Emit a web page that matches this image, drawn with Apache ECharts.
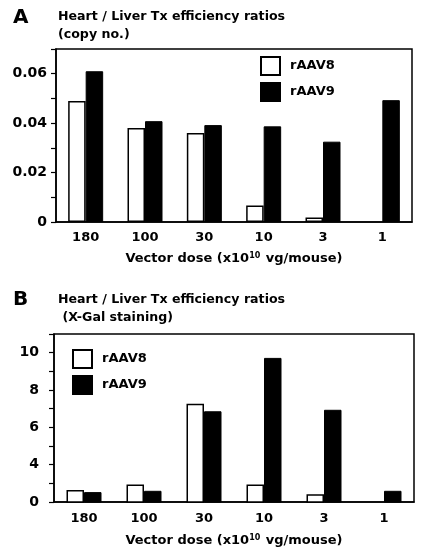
<!DOCTYPE html>
<html>
<head>
<meta charset="utf-8">
<script src="https://cdn.jsdelivr.net/npm/echarts@6/dist/echarts.min.js"></script>
<style>
html,body{margin:0;padding:0;background:#fff;}
#chart{width:424px;height:556px;}
</style>
</head>
<body>
<div id="chart"></div>
<script>
// Categories (vector dose, x10^10 vg/mouse)
var categories = ['180', '100', '30', '10', '3', '1'];

// Panel A: Heart / Liver Tx efficiency ratios (copy no.)
var aRAAV8 = [0.049, 0.038, 0.036, 0.0067, 0.0018, null];
var aRAAV9 = [0.061, 0.0408, 0.0392, 0.0387, 0.0325, 0.0493];
var aTickLabels = ['0', '0.02', '0.04', '0.06'];

// Panel B: Heart / Liver Tx efficiency ratios (X-Gal staining)
// (bottom labelled tick "0" sits one major step below "4")
var bRAAV8 = [2.64, 2.94, 7.27, 2.94, 2.42, null];
var bRAAV9 = [2.53, 2.60, 6.86, 9.72, 6.94, 2.60];
var bTickLabels = ['0', '4', '6', '8', '10'];

var FONT = 'DejaVu Sans';
var txt = {fontFamily: FONT, fontWeight: 'bold', fontSize: 13, color: '#000'};
var ytxt = {fontFamily: FONT, fontWeight: 'bold', fontSize: 14, color: '#000'};

var chart = echarts.init(document.getElementById('chart'), null, {renderer: 'canvas'});

function xName(gap) {
  return {
    name: '{n|Vector dose (x10}{s|10}{n| vg/mouse)}',
    nameLocation: 'middle',
    nameGap: gap,
    nameTextStyle: {
      rich: {
        n: {fontFamily: FONT, fontWeight: 'bold', fontSize: 13, color: '#000'},
        s: {fontFamily: FONT, fontWeight: 'bold', fontSize: 8, color: '#000', verticalAlign: 'top', padding: [0, 1, 6, 0]}
      }
    }
  };
}

var white = {color: '#fff', borderColor: '#000', borderWidth: 1.5};
var black = {color: '#000', borderColor: '#000', borderWidth: 1};
var titleStyle = {fontFamily: FONT, fontWeight: 'bold', fontSize: 12.6, lineHeight: 17.5, color: '#000'};
var letterStyle = {fontFamily: FONT, fontWeight: 'bold', fontSize: 20, lineHeight: 20, color: '#000'};

var option = {
  backgroundColor: '#fff',
  animation: false,
  title: [
    {text: 'A', left: 13, top: 8, padding: 0, textStyle: letterStyle},
    {text: 'Heart / Liver Tx efficiency ratios\n(copy no.)', left: 58, top: 8, padding: 0, textStyle: titleStyle},
    {text: 'B', left: 13, top: 290, padding: 0, textStyle: letterStyle},
    {text: 'Heart / Liver Tx efficiency ratios\n (X-Gal staining)', left: 58, top: 291, padding: 0, textStyle: titleStyle}
  ],
  legend: [
    {left: 260, top: 56, padding: 0, orient: 'vertical', itemWidth: 19, itemHeight: 18, itemGap: 6,
     icon: 'rect', textStyle: Object.assign({}, txt, {padding: [0, 0, 0, 5]}), data: ['rAAV8', 'rAAV9'], selectedMode: false},
    {left: 72, top: 349, padding: 0, orient: 'vertical', itemWidth: 19, itemHeight: 18, itemGap: 6,
     icon: 'rect', textStyle: Object.assign({}, txt, {padding: [0, 0, 0, 5]}), data: ['rAAV8', 'rAAV9'], selectedMode: false}
  ],
  grid: [
    {left: 56, top: 49, width: 356, height: 173, show: true, borderColor: '#000', borderWidth: 1.5, backgroundColor: 'transparent'},
    {left: 54, top: 334, width: 360, height: 168, show: true, borderColor: '#000', borderWidth: 1.5, backgroundColor: 'transparent'}
  ],
  xAxis: [
    Object.assign({
      type: 'category', gridIndex: 0, data: categories,
      axisLine: {lineStyle: {color: '#000', width: 1.5}},
      axisTick: {show: false},
      axisLabel: Object.assign({}, txt, {margin: 9})
    }, xName(30)),
    Object.assign({
      type: 'category', gridIndex: 1, data: categories,
      axisLine: {lineStyle: {color: '#000', width: 1.5}},
      axisTick: {show: false},
      axisLabel: Object.assign({}, txt, {margin: 10})
    }, xName(32))
  ],
  yAxis: [
    {
      type: 'value', gridIndex: 0, min: 0, max: 0.07, interval: 0.01,
      axisLine: {show: true, lineStyle: {color: '#000', width: 1.5}},
      axisTick: {show: true, length: 5, lineStyle: {color: '#000', width: 1.2}},
      splitLine: {show: false},
      axisLabel: Object.assign({}, ytxt, {margin: 9, formatter: function (v) {
        var k = Math.round(v * 100);
        if (k % 2 !== 0) return '';
        var i = k / 2;
        return aTickLabels[i] !== undefined ? aTickLabels[i] : '';
      }})
    },
    {
      type: 'value', gridIndex: 1, min: 2, max: 11, interval: 1,
      axisLine: {show: true, lineStyle: {color: '#000', width: 1.5}},
      axisTick: {show: true, length: 5, lineStyle: {color: '#000', width: 1.2}},
      splitLine: {show: false},
      axisLabel: Object.assign({}, ytxt, {margin: 15, formatter: function (v) {
        var k = Math.round(v);
        if (k === 2) return bTickLabels[0];
        if (k % 2 !== 0) return '';
        var s = String(k);
        return bTickLabels.indexOf(s) >= 0 ? s : '';
      }})
    }
  ],
  series: [
    {name: 'rAAV8', type: 'bar', xAxisIndex: 0, yAxisIndex: 0, data: aRAAV8, barWidth: 17.5, barGap: '0%', itemStyle: white},
    {name: 'rAAV9', type: 'bar', xAxisIndex: 0, yAxisIndex: 0, data: aRAAV9, barWidth: 17.5, barGap: '0%', itemStyle: black},
    {name: 'rAAV8', type: 'bar', xAxisIndex: 1, yAxisIndex: 1, data: bRAAV8, barWidth: 17.5, barGap: '0%', itemStyle: white},
    {name: 'rAAV9', type: 'bar', xAxisIndex: 1, yAxisIndex: 1, data: bRAAV9, barWidth: 17.5, barGap: '0%', itemStyle: black}
  ]
};
chart.setOption(option);
</script>
</body>
</html>
